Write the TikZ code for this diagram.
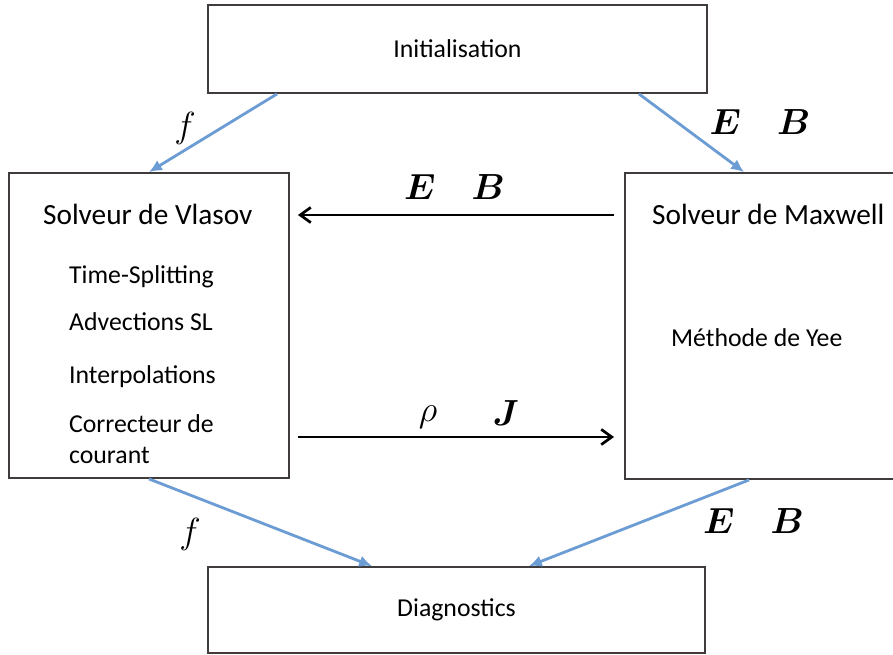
\documentclass[tikz,border=0pt]{standalone}
\usepackage{fix-cm}
\usepackage{amsmath}
\usepackage{fontspec}
\setmainfont{Carlito}
\usetikzlibrary{calc,arrows.meta}
\definecolor{bleu}{RGB}{108,156,212}
\definecolor{cadre}{RGB}{64,60,60}

\tikzset{
  boite/.style={draw=cadre,line width=1.6pt,inner sep=0pt},
  liaison/.style={bleu,line width=2.4pt,-{Latex[length=11pt,width=10pt]}},
  echange/.style={black,line width=2.3pt,-{Straight Barb[length=9pt,width=13pt]}},
  titre/.style={anchor=base west,font=\fontsize{25}{30}\selectfont},
  etape/.style={anchor=base west,font=\fontsize{22}{26}\selectfont},
  champ/.style={anchor=base,font=\fontsize{31}{31}\selectfont},
}

\begin{document}
\begin{tikzpicture}[x=0.03cm,y=-0.03cm]
    \useasboundingbox (0,0) rectangle (893,655);

    % Boites : initialisation, solveurs et diagnostics
    \node[boite,minimum width=14.97cm,minimum height=2.64cm,font=\fontsize{22}{26}\selectfont] (init) at (457.5,49) {Initialisation};
    \node[boite,minimum width=8.4cm,minimum height=9.15cm] (vlasov) at (149,325.5) {};
    \node[boite,minimum width=8.4cm,minimum height=9.18cm] (maxwell) at (765,326) {};
    \node[boite,minimum width=14.91cm,minimum height=2.58cm,font=\fontsize{22}{26}\selectfont] (diag) at (456.5,610) {Diagnostics};

    % Textes du solveur de Vlasov
    \node[titre] (tvlasov) at (39,225) {Solveur de Vlasov};
    \node[etape] (split) at (65,284) {Time-Splitting};
    \node[etape] (advec) at (65,331) {Advections SL};
    \node[etape] (interp) at (65,384) {Interpolations};
    \node[etape] (correc) at (65,433) {Correcteur de};
    \node[etape] (courant) at (65,463) {courant};

    % Textes du solveur de Maxwell
    \node[titre] (tmaxwell) at (648,225) {Solveur de Maxwell};
    \node[etape] (yee) at (667,347) {Méthode de Yee};

    % Fleches bleues (initialisation et diagnostics)
    \draw[liaison] ($(init.south west)+(70,0)$) -- (vlasov.north);
    \draw[liaison] ($(init.south east)+(-69,0)$) -- ($(maxwell.north west)+(120,0)$);
    \draw[liaison] (vlasov.south) -- ($(diag.north west)+(165,0)$);
    \draw[liaison] ($(maxwell.south west)+(125,0)$) -- ($(diag.north east)+(-177,0)$);

    % Fleches noires entre les deux solveurs
    \draw[echange] ($(maxwell.west)+(-10,-111)$) -- ($(vlasov.east)+(8,-110.5)$);
    \draw[echange] ($(vlasov.east)+(8,111.5)$) -- ($(maxwell.west)+(-10,111)$);

    % Grandeurs echangees
    \node[champ] (fhaut) at (185,138) {$f$};
    \node[champ] (EBhaut) at (760,135) {$\boldsymbol{E}\quad\boldsymbol{B}$};
    \node[champ] (EBmilieu) at (454.5,200) {$\boldsymbol{E}\quad\boldsymbol{B}$};
    \node[champ] (rho) at (428,421) {$\rho$};
    \node[champ] (J) at (506,425) {$\boldsymbol{J}$};
    \node[champ] (fbas) at (190,543) {$f$};
    \node[champ] (EBbas) at (753.5,533) {$\boldsymbol{E}\quad\boldsymbol{B}$};

\end{tikzpicture}
\end{document}
